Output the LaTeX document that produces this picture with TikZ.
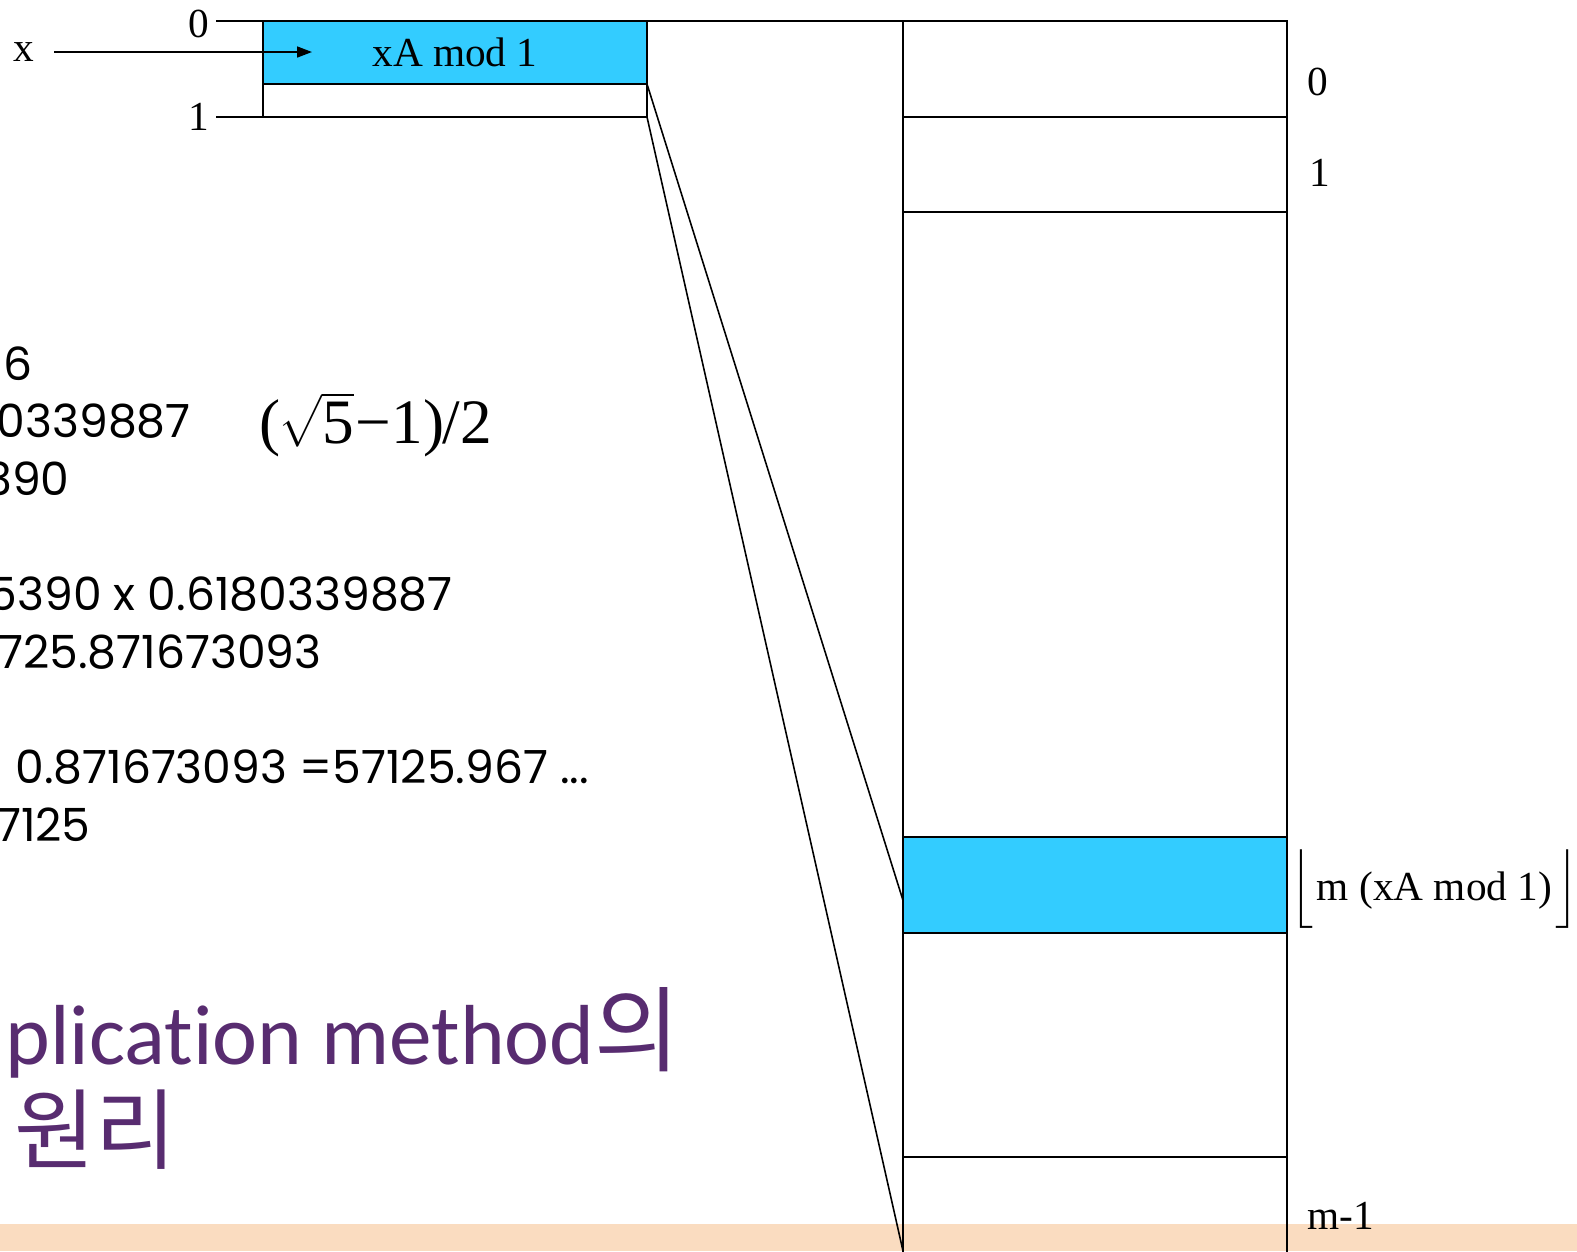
\documentclass[tikz,border=0pt]{standalone}
\usepackage{amsmath}
\usepackage{fontspec}
\setmainfont{Liberation Serif}
\newfontfamily\gothic{Poppins}
\newfontfamily\titlefont[Ligatures=NoCommon]{Carlito}
\newfontfamily\kofont{Noto Sans CJK KR}
\usetikzlibrary{positioning, arrows.meta, calc}
\definecolor{hashblue}{RGB}{51,204,255}
\definecolor{slidepeach}{RGB}{250,220,192}
\definecolor{titlepurple}{RGB}{88,44,112}

\begin{document}
\begin{tikzpicture}[
        x=0.2mm, y=-0.2mm,
        node distance = 0pt,
        cell/.style    = {draw, rectangle, minimum width=76.8mm, inner sep=0pt, outer sep=0pt, line width=0.9pt},
        hit/.style     = {cell, fill=hashblue},
        lbl/.style     = {inner sep=0pt, font=\fontsize{23.5}{28}\selectfont},
        work/.style    = {inner sep=0pt, font=\gothic\fontsize{26}{31}\selectfont},
        heading/.style = {inner sep=0pt, text=titlepurple, font=\titlefont\fontsize{48.5}{58}\selectfont},
        hangul/.style  = {inner sep=0pt, text=titlepurple, font=\kofont\fontsize{50}{60}\selectfont},
        arrow/.style   = {-{Triangle[length=3mm, width=2.2mm]}, line width=0.9pt},
        wire/.style    = {line width=0.9pt},
    ]
    \useasboundingbox (0,0) rectangle (1577,1251);
    \fill[slidepeach] (0,1224) rectangle (1577,1251);

    % key side
    \node[hit, minimum height=12.6mm, anchor=north west] (hash) at (263,21) {\fontsize{23.5}{28}\selectfont xA mod 1};
    \node[cell, minimum height=6.6mm, below=of hash] (low) {};
    \node[lbl, anchor=base west] (ltop) at (188,37) {0};
    \node[lbl, anchor=base west] (lbot) at (188,130) {1};
    \node[lbl, anchor=west] (xin) at (13,52) {x};
    \coordinate (xtip) at (312,52);
    \coordinate (t0) at (216,21);
    \coordinate (t1) at (216,117);

    % table side
    \node[cell, minimum height=19.2mm, anchor=north west] (slot0) at (903,21) {};
    \node[cell, minimum height=19mm, below=of slot0] (slot1) {};
    \node[cell, minimum height=125mm, below=of slot1] (gap1) {};
    \node[hit, minimum height=19.2mm, below=of gap1] (slotk) {};
    \node[cell, minimum height=44.8mm, below=of slotk] (gap2) {};
    \node[cell, minimum height=32.6mm, below=of gap2] (slotm) {};
    \node[lbl, anchor=base west] (n0) at (1307,95) {0};
    \node[lbl, anchor=base west] (n1) at (1309,186) {1};
    \node[lbl, anchor=base west] (nk) at (1290,900) {$\Bigl\lfloor$\kern2pt m (xA mod 1)\kern2pt$\Bigr\rfloor$};
    \node[lbl, anchor=base west] (nm) at (1307,1229) {m-1};
    \coordinate (lend) at (903,1251);

    \draw[arrow, shorten <=4mm] (xin.east) -- (xtip);
    \draw[wire] (t0) -- (hash.north west);
    \draw[wire] (t1) -- (low.south west);
    \draw[wire] (hash.north east) -- (slot0.north west);
    \draw[wire] (hash.south east) -- ($(slotk.north west)!0.66!(slotk.south west)$);
    \draw[wire] (low.south east) -- (lend);

    % worked example
    \node[work, anchor=base west] (w1) at (3,380) {6};
    \node[work, anchor=base east] (w2) at (191,437) {80339887};
    \node[work, anchor=base east] (w3) at (70,495) {390};
    \node[work, anchor=base east] (w4) at (453,610) {5390 x 0.6180339887};
    \node[work, anchor=base east] (w5) at (322,668) {725.871673093};
    \node[work, anchor=base west] (w6) at (15,783) {0.871673093 =57125.967 ...};
    \node[work, anchor=base east] (w7) at (91,841) {7125};
    \node[anchor=base west, inner sep=0pt, font=\fontsize{36}{44}\selectfont] (golden) at (259,443)
        {(\kern-1pt$\sqrt{\mbox{5}}$\kern1pt−1)\kern-1pt/2};

    % title
    \node[heading, anchor=base west] (h1) at (5,1064) {plication method{\kofont\fontsize{53}{60}\selectfont 의}};
    \node[hangul, anchor=base west] (h2) at (14,1162) {원리};
\end{tikzpicture}
\end{document}
